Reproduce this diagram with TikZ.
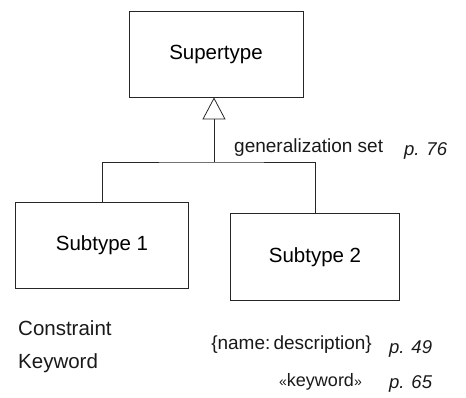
\documentclass[tikz,border=0pt]{standalone}
\usepackage{fontspec}
\setmainfont{Liberation Sans}
\usetikzlibrary{arrows.meta}
\begin{document}
\begin{tikzpicture}[x=1pt,y=-1pt,
  box/.style={draw=black!85, line width=0.8pt, inner sep=0pt, font=\fontsize{20.5}{24}\selectfont},
  lbl/.style={inner sep=0pt, text=black!90, font=\fontsize{19}{22}\selectfont},
  pref/.style={inner sep=0pt, text=black!90, font=\fontsize{18.5}{22}\selectfont\itshape},
  conn/.style={draw=black!85, line width=0.8pt}]
\useasboundingbox (0,0) rectangle (466,397);
\node[box, minimum width=174pt, minimum height=86pt] (super) at (216,54) {Supertype};
\node[box, minimum width=173pt, minimum height=86pt] (sub1) at (102,245) {Subtype 1};
\node[box, minimum width=169pt, minimum height=87pt] (sub2) at (315,257) {Subtype 2};
\coordinate (junction) at (214,162);
\draw[conn, -{Triangle[open,length=22pt,width=23pt,line width=0.8pt]}] (junction) -- (junction |- super.south);
\draw[conn] (sub1.north) |- (junction) -| (sub2.north);
\node[lbl, anchor=base west] (gs) at (234,152) {generalization set};
\node[pref, anchor=base west] (p76) at (404,155) {p. 76};
\node[lbl, anchor=base west, font=\fontsize{20.5}{24}\selectfont] (constraint) at (18,335) {Constraint};
\node[lbl, anchor=base west, font=\fontsize{20.5}{24}\selectfont] (keyword) at (18,368) {Keyword};
\node[lbl, anchor=base east] (namedesc) at (372,349) {\{name:\,description\}};
\node[pref, anchor=base west] (p49) at (389,353) {p. 49};
\node[lbl, anchor=base east, font=\fontsize{18}{22}\selectfont] (kw) at (362,386) {{\fontsize{14}{16}\selectfont«}keyword{\fontsize{14}{16}\selectfont»}};
\node[pref, anchor=base west] (p65) at (389,388) {p. 65};
\end{tikzpicture}
\end{document}
